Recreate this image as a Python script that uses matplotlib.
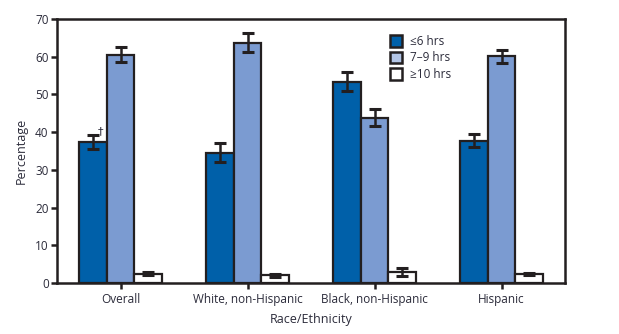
import matplotlib
matplotlib.use("Agg")
import matplotlib.pyplot as plt
from matplotlib.patches import Patch
import numpy as np

plt.rcParams['font.family'] = ['Open Sans', 'DejaVu Sans']

categories = ["Overall", "White, non-Hispanic", "Black, non-Hispanic", "Hispanic"]
series_names = ["\u22646 hrs", "7\u20139 hrs", "\u226510 hrs"]
le6 = [37.5, 34.6, 53.4, 37.7]
le6_lo = [35.4, 32.0, 51.0, 36.1]
le6_hi = [39.2, 37.0, 56.0, 39.5]
h79 = [60.5, 63.7, 43.8, 60.3]
h79_lo = [58.6, 61.2, 41.6, 58.3]
h79_hi = [62.7, 66.2, 46.2, 61.8]
ge10 = [2.5, 2.1, 3.0, 2.4]
ge10_lo = [2.2, 1.7, 1.9, 2.1]
ge10_hi = [2.8, 2.5, 4.0, 2.7]
yticks = [0, 10, 20, 30, 40, 50, 60, 70]

colors = ["#0060a9", "#7b9bd1", "#ffffff"]
legend_colors = ["#0060a9", "#b3c5e6", "#ffffff"]
text_color = "#2b2b3a"
edge = "#231f20"

fig = plt.figure(figsize=(6.19, 3.34), dpi=100)
ax = fig.add_axes([57/619, 1 - 283/334, (565-57)/619, (283-19)/334])

x = np.arange(len(categories))
w = 0.22
data = [(le6, le6_lo, le6_hi), (h79, h79_lo, h79_hi), (ge10, ge10_lo, ge10_hi)]
for i, (vals, lo, hi) in enumerate(data):
    pos = x + (i - 1) * w
    vals = np.array(vals); lo = np.array(lo); hi = np.array(hi)
    ax.bar(pos, vals, w, color=colors[i], edgecolor=edge, linewidth=1.6, zorder=2)
    ax.errorbar(pos, vals, yerr=[vals - lo, hi - vals], fmt='none', ecolor=edge,
                elinewidth=1.8, capsize=4.5, capthick=2.2, zorder=3)

ax.text(x[0] - w + 0.065, le6_hi[0] - 0.2, "\u2020", fontsize=8, color=text_color,
        family=['DejaVu Sans'], va='bottom', ha='center')

ax.set_xlim(-0.5, 3.5)
ax.set_ylim(0, 70)
ax.set_yticks(yticks)
ax.set_xticks(x)
ax.set_xticklabels(categories)
ax.tick_params(axis='both', direction='out', length=4, width=1.8, color=edge,
               labelsize=8.5, labelcolor=text_color)
ax.tick_params(axis='x', pad=3)
ax.tick_params(axis='y', pad=2)
for s in ax.spines.values():
    s.set_linewidth(1.8)
    s.set_color(edge)
ax.set_ylabel("Percentage", fontsize=9, color=text_color, labelpad=5)
ax.set_xlabel("Race/Ethnicity", fontsize=9, color=text_color, labelpad=5)

handles = [Patch(facecolor=legend_colors[i], edgecolor=edge, linewidth=1.8, label=series_names[i])
           for i in range(3)]
leg = ax.legend(handles=handles, loc='upper left', bbox_to_anchor=(0.635, 0.98),
                frameon=False, fontsize=8.5, handlelength=1.0, handleheight=1.1,
                handletextpad=0.7, labelspacing=0.3)
for t in leg.get_texts():
    t.set_color(text_color)

fig.savefig("out.png", dpi=100)
